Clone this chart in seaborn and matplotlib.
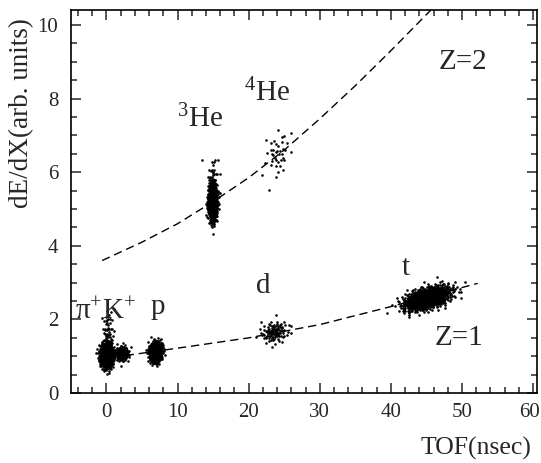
import numpy as np
import pandas as pd
import matplotlib
matplotlib.use("Agg")
import matplotlib.pyplot as plt
import matplotlib.transforms as mtransforms
import seaborn as sns
from matplotlib.ticker import MultipleLocator

# ---- data ----
cluster_names = ["pi", "pi_tail", "K", "p", "d", "t", "He3", "He3_tail", "He4"]
cluster_tof = [0.0, 0.2, 2.2, 6.9, 23.6, 45.1, 14.9, 15.0, 24.0]
cluster_dedx = [1.02, 1.6, 1.08, 1.12, 1.66, 2.58, 5.18, 5.8, 6.5]
cluster_sig_tof = [0.42, 0.4, 0.45, 0.42, 1.0, 1.6, 0.3, 0.4, 0.9]
cluster_sig_dedx = [0.15, 0.35, 0.1, 0.13, 0.15, 0.16, 0.24, 0.3, 0.32]
cluster_corr = [0.0, 0.0, 0.0, 0.1, 0.2, 0.5, 0.0, 0.0, 0.2]
cluster_counts = [1000, 60, 160, 700, 100, 1000, 800, 40, 40]

z2_tof = [-0.6, 5.0, 10.0, 15.0, 20.0, 25.0, 30.0, 35.0, 40.0, 45.6]
z2_dedx = [3.6, 4.1, 4.6, 5.2, 5.85, 6.6, 7.45, 8.35, 9.3, 10.4]
z1_tof = [2.7, 10.0, 20.0, 30.0, 40.0, 52.2]
z1_dedx = [1.02, 1.22, 1.5, 1.86, 2.35, 2.98]

xticks = [0, 10, 20, 30, 40, 50, 60]
yticks = [0, 2, 4, 6, 8, 10]


def halton(idx, base):
    res = np.zeros(len(idx))
    f = np.ones(len(idx))
    i = idx.astype(float).copy()
    while np.any(i > 0):
        f = f / base
        res = res + f * (i % base)
        i = np.floor(i / base)
    return res


rows = []
start = 1
for name, mx, my, sx, sy, rho, n in zip(cluster_names, cluster_tof, cluster_dedx,
                                         cluster_sig_tof, cluster_sig_dedx,
                                         cluster_corr, cluster_counts):
    idx = np.arange(start, start + n)
    start += n + 37
    u1 = halton(idx, 2)
    u2 = halton(idx, 3)
    r = np.sqrt(-2 * np.log(np.clip(u1, 1e-6, 1)))
    a = r * np.cos(2 * np.pi * u2)
    b = r * np.sin(2 * np.pi * u2)
    xs = mx + sx * a
    ys = my + sy * (rho * a + np.sqrt(1 - rho ** 2) * b)
    rows.append(pd.DataFrame({"tof": xs, "dedx": ys, "cluster": name}))
df = pd.concat(rows, ignore_index=True)

sns.set_style("ticks")
plt.rcParams["font.family"] = ["Liberation Serif", "DejaVu Serif"]
plt.rcParams["mathtext.fontset"] = "custom"
plt.rcParams["mathtext.rm"] = "Liberation Serif"
plt.rcParams["mathtext.it"] = "Liberation Serif:italic"

fig = plt.figure(figsize=(5.41, 4.63), dpi=100)
ax = fig.add_axes([0.131, 0.151, 0.861, 0.827])

sns.scatterplot(data=df, x="tof", y="dedx", color="black", s=3.5,
                linewidth=0, ax=ax, legend=False)
sns.lineplot(x=z2_tof, y=z2_dedx, color="black", lw=1.0, ax=ax,
             dashes=False, linestyle=(0, (6, 3.5)))
sns.lineplot(x=z1_tof, y=z1_dedx, color="black", lw=1.0, ax=ax,
             dashes=False, linestyle=(0, (6, 3.5)))

ax.set_xlim(-5, 60.5)
ax.set_ylim(0, 10.4)
ax.set_xticks(xticks)
ax.set_yticks(yticks)
ax.xaxis.set_minor_locator(MultipleLocator(2))
ax.yaxis.set_minor_locator(MultipleLocator(0.5))
ax.tick_params(which="both", direction="in", top=True, right=True,
               labelsize=15, width=1.1)
ax.tick_params(axis="y", pad=9)
ax.tick_params(axis="x", pad=7)
ax.tick_params(which="major", length=7)
ax.tick_params(which="minor", length=4)
for sp in ax.spines.values():
    sp.set_linewidth(1.2)
    sp.set_color("black")
ax.set_xlabel("")
ax.set_ylabel("")

# nudge the last x tick label so it stays inside the image
last = ax.get_xticklabels()[-1]
last.set_transform(last.get_transform() +
                   mtransforms.ScaledTranslation(-4 / 100, 0, fig.dpi_scale_trans))

fs = 21
ax.text(13.1, 7.43, r"$^{3}$He", fontsize=fs, ha="center", va="center")
ax.text(22.6, 8.16, r"$^{4}$He", fontsize=fs, ha="center", va="center")
ax.text(50.1, 8.98, "Z=2", fontsize=fs, ha="center", va="center")
ax.text(49.6, 1.5, "Z=1", fontsize=fs, ha="center", va="center")
ax.text(42.1, 3.4, "t", fontsize=fs, ha="center", va="center")
ax.text(22.1, 2.9, "d", fontsize=fs, ha="center", va="center")
ax.text(7.2, 2.35, "p", fontsize=fs, ha="center", va="center")
ax.text(-0.1, 2.2, "π$^{+}$K$^{+}$", fontsize=fs, ha="center", va="center")

fig.text(22 / 541, 1 - 18 / 463, "dE/dX(arb. units)", rotation=90,
         fontsize=19.5, ha="center", va="top")
fig.text(531 / 541, 1 - 448 / 463, "TOF(nsec)", fontsize=18.5, ha="right",
         va="center")

fig.savefig("out.png", dpi=100)
